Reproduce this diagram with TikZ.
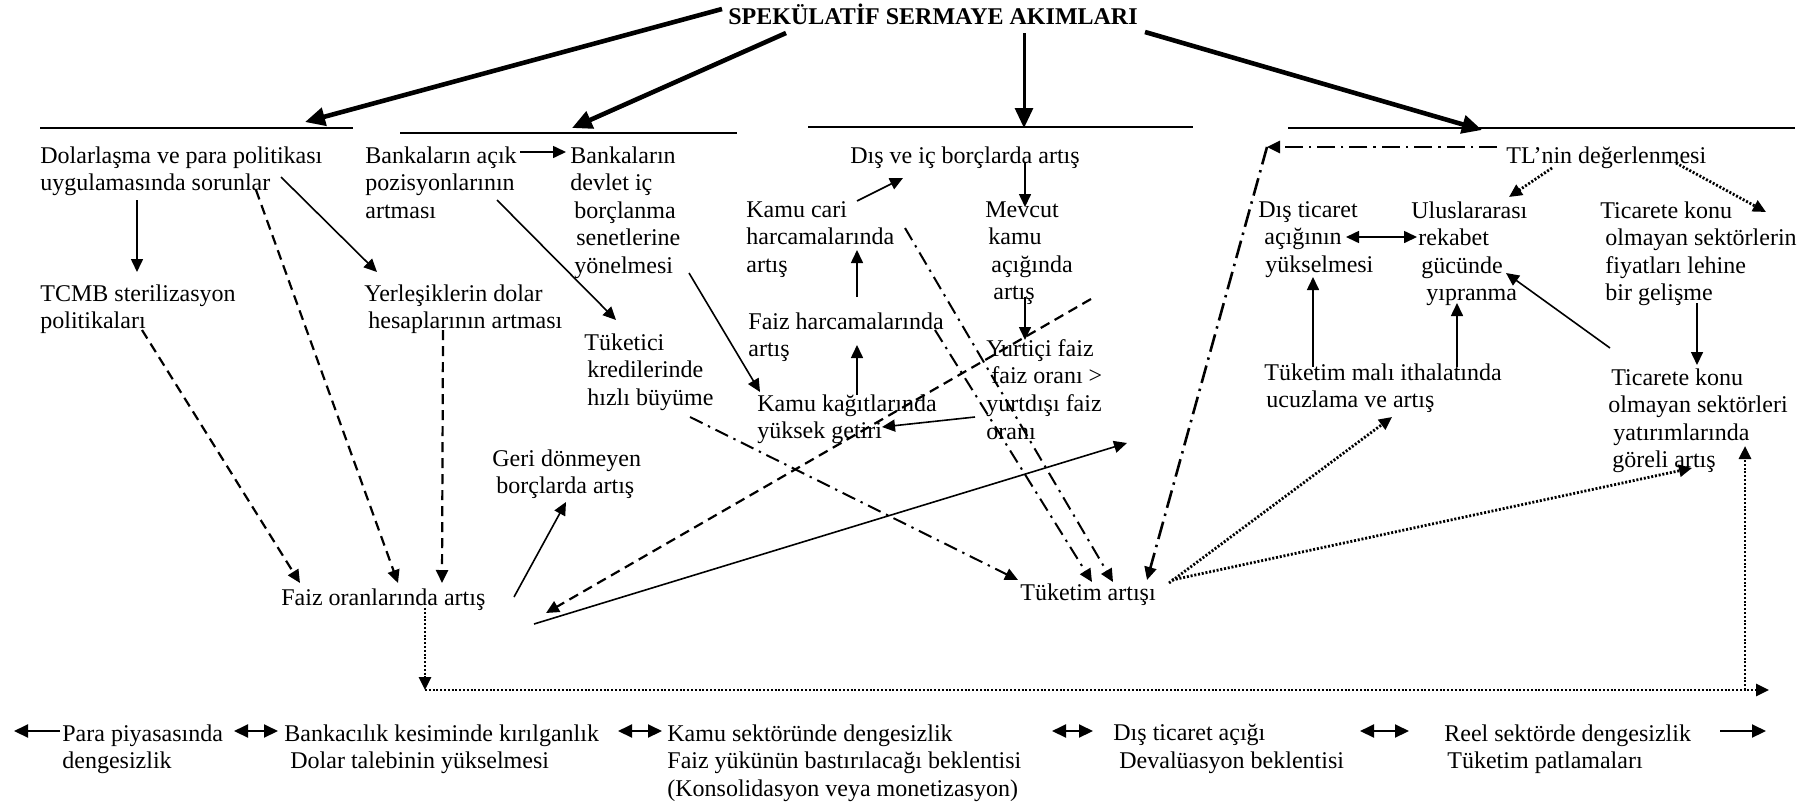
\documentclass[tikz,border=0pt]{standalone}
\usepackage{fontspec}
\setmainfont{Liberation Serif}
\usetikzlibrary{arrows.meta,calc}

\begin{document}
\begin{tikzpicture}[x=0.5pt, y=-0.5pt, >={Triangle[length=6.5pt,width=6pt]},
    every node/.style={font=\fontsize{12}{13.8}\selectfont},
    txt/.style={anchor=north west, inner sep=0pt, align=left},
    rule/.style={line width=1pt},
    link/.style={->, line width=0.8pt},
    heavy/.style={-{Triangle[length=10pt,width=9pt]}, line width=2.3pt},
    dashedlink/.style={->, line width=1.1pt, dash pattern=on 5pt off 3pt},
    dashdotlink/.style={->, line width=1pt, dash pattern=on 7pt off 3pt on 1.2pt off 3pt},
    dottedlink/.style={->, line width=1.4pt, dash pattern=on 1pt off 0.9pt},
    pairarrow/.style={{Triangle[length=7pt,width=6.5pt]}-{Triangle[length=7pt,width=6.5pt]}, line width=1pt}]
    \useasboundingbox (0,0) rectangle (1820,804);

    % Nodes
    \node (title) [anchor=base, inner sep=0pt, font=\fontsize{12}{13.8}\selectfont\bfseries] at (933,24) {SPEKÜLATİF SERMAYE AKIMLARI};
    \node (dolar) [txt] at (40,146) {Dolarlaşma ve para politikası\\uygulamasında sorunlar};
    \node (tcmb) [txt] at (40,284) {TCMB sterilizasyon\\politikaları};
    \node (yerlesik) [txt] at (364,284) {Yerleşiklerin dolar\\\hspace*{2pt}hesaplarının artması};
    \node (acik) [txt] at (365,146) {Bankaların açık\\pozisyonlarının\\artması};
    \node (devlet) [txt] at (570,146) {Bankaların\\devlet iç\\\hspace*{2pt}borçlanma\\\hspace*{3pt}senetlerine\\\hspace*{2pt}yönelmesi};
    \node (tuketici) [txt] at (584,333) {Tüketici\\\hspace*{1.5pt}kredilerinde\\\hspace*{1.5pt}hızlı büyüme};
    \node (kamucari) [txt] at (746,201) {Kamu cari\\harcamalarında\\artış};
    \node (faizharc) [txt] at (748,312) {Faiz harcamalarında\\artış};
    \node (kagit) [txt] at (757,394) {Kamu kağıtlarında\\yüksek getiri};
    \node (disic) [txt] at (850,146) {Dış ve iç borçlarda artış};
    \node (mevcut) [txt] at (985,201) {Mevcut\\\hspace*{1.5pt}kamu\\\hspace*{3pt}açığında\\\hspace*{4pt}artış};
    \node (yurtici) [txt] at (986,339) {Yurtiçi faiz\\\hspace*{2.5pt}faiz oranı >\\yurtdışı faiz\\oranı};
    \node (geri) [txt] at (492,449) {Geri dönmeyen\\\hspace*{2pt}borçlarda artış};
    \node (faizoran) [txt] at (281,588) {Faiz oranlarında artış};
    \node (tuketim) [txt] at (1020,583) {Tüketim artışı};
    \node (tl) [txt] at (1506,146) {TL’nin değerlenmesi};
    \node (disticaret) [txt] at (1258,201) {Dış ticaret\\\hspace*{3pt}açığının\\\hspace*{3.5pt}yükselmesi};
    \node (ulus) [txt] at (1411,201) {Uluslararası\\\hspace*{3.5pt}rekabet\\\hspace*{5pt}gücünde\\\hspace*{7.5pt}yıpranma};
    \node (ticfiyat) [txt] at (1600,201) {Ticarete konu\\\hspace*{2.5pt}olmayan sektörlerin\\\hspace*{2.5pt}fiyatları lehine\\\hspace*{2.5pt}bir gelişme};
    \node (ithalat) [txt] at (1264,363) {Tüketim malı ithalatında\\\hspace*{1pt}ucuzlama ve artış};
    \node (ticyat) [txt] at (1608,368) {\hspace*{1.5pt}Ticarete konu\\olmayan sektörleri\\\hspace*{2.5pt}yatırımlarında\\\hspace*{2pt}göreli artış};

    % Bottom row
    \node (para) [txt] at (62,724) {Para piyasasında\\dengesizlik};
    \node (banka) [txt] at (284,724) {Bankacılık kesiminde kırılganlık\\\hspace*{3pt}Dolar talebinin yükselmesi};
    \node (kamusek) [txt] at (667,724) {Kamu sektöründe dengesizlik\\Faiz yükünün bastırılacağı beklentisi\\(Konsolidasyon veya monetizasyon)};
    \node (dticaret) [txt] at (1113,724) {Dış ticaret açığı\\\hspace*{3pt}Devalüasyon beklentisi};
    \node (reel) [txt] at (1444,724) {Reel sektörde dengesizlik\\\hspace*{1.5pt}Tüketim patlamaları};

    % Free ends
    \coordinate (s1) at (305,122);
    \coordinate (s2) at (572,128);
    \coordinate (s3) at (1024,128);
    \coordinate (s4) at (1482,130);
    \coordinate (f1) at (1127,443);
    \coordinate (d1) at (1091,299);
    \coordinate (c1) at (1267,147);
    \coordinate (c2) at (425,690);
    \coordinate (c3) at (1769,690);
    \coordinate (c4) at (1745,690);
    \coordinate (b0) at (14,731);
    \coordinate (b1) at (1766,731);

    % Section rules
    \draw[rule] (40,128) -- (353,128);
    \draw[rule] (400,133) -- (737,133);
    \draw[rule] (808,127) -- (1193,127);
    \draw[rule] (1288,128) -- (1795,128);

    % Capital flow arrows
    \draw[heavy] ($(title.base)+(-211,-15)$) -- (s1);
    \draw[heavy] ($(title.base)+(-147,9)$) -- (s2);
    \draw[heavy, line width=1.5pt] ($(title.base)+(91,9)$) -- (s3);
    \draw[heavy] ($(title.base)+(212,8)$) -- (s4);

    % Solid arrows
    \draw[link] ($(dolar.north west)+(97,54)$) -- ($(tcmb.north west)+(97,-12)$);
    \draw[link] ($(dolar.north west)+(241,31)$) -- ($(yerlesik.north west)+(13,-12)$);
    \draw[link] ($(acik.north west)+(155,6)$) -- ($(devlet.north west)+(-4,6)$);
    \draw[link] ($(acik.north west)+(132,54)$) -- ($(tuketici.north west)+(32,-13)$);
    \draw[link] ($(devlet.north west)+(119,127)$) -- ($(kagit.north west)+(3,-2)$);
    \draw[link] ($(kagit.north west)+(100,1)$) -- ($(faizharc.north west)+(109,33)$);
    \draw[link] ($(faizharc.north west)+(109,-15)$) -- ($(kamucari.north west)+(111,49)$);
    \draw[link] ($(kamucari.north west)+(111,0)$) -- ($(disic.north west)+(53,32)$);
    \draw[link] ($(disic.north west)+(175,16)$) -- ($(mevcut.north west)+(40,6)$);
    \draw[link] ($(mevcut.north west)+(40,96)$) -- ($(yurtici.north west)+(39,1)$);
    \draw[link] ($(yurtici.north west)+(-11,78)$) -- ($(kagit.north west)+(125,33)$);
    \draw[link] ($(faizoran.north west)+(233,9)$) -- ($(geri.north west)+(74,53)$);
    \draw[link] ($(faizoran.north west)+(253,36)$) -- (f1);
    \draw[link] ($(ithalat.north west)+(49,4)$) -- ($(disticaret.north west)+(55,76)$);
    \draw[link] ($(ithalat.north west)+(193,4)$) -- ($(ulus.north west)+(46,102)$);
    \draw[link] ($(ticyat.north west)+(2,-20)$) -- ($(ulus.north west)+(95,72)$);
    \draw[link] ($(ticfiyat.north west)+(97,102)$) -- ($(ticyat.north west)+(89,-3)$);
    \draw[link, <->] ($(disticaret.north west)+(88,36)$) -- ($(ulus.north west)+(6,36)$);

    % Dashed arrows
    \draw[dashedlink] ($(tcmb.north west)+(102,46)$) -- ($(faizoran.north west)+(19,-5)$);
    \draw[dashedlink] ($(dolar.north west)+(216,44)$) -- ($(faizoran.north west)+(117,-5)$);
    \draw[dashedlink] ($(yerlesik.north west)+(79,46)$) -- ($(faizoran.north west)+(161,-5)$);
    \draw[dashedlink] (d1) -- ($(faizoran.north west)+(265,25)$);

    % Dash-dot arrows
    \draw[dashdotlink] ($(tuketici.north west)+(106,84)$) -- ($(tuketim.north west)+(-2,-3)$);
    \draw[dashdotlink] ($(kamucari.north west)+(159,27)$) -- ($(tuketim.north west)+(93,-1)$);
    \draw[dashdotlink] ($(faizharc.north west)+(187,18)$) -- ($(tuketim.north west)+(72,-1)$);
    \draw[dashdotlink, line width=1.3pt, dash pattern=on 9pt off 3pt on 1.2pt off 3pt] ($(tl.north west)+(-9,1)$) -- (c1);
    \draw[dashdotlink, line width=1.3pt, dash pattern=on 9pt off 3pt on 1.2pt off 3pt] (c1) -- ($(tuketim.north west)+(127,-3)$);

    % Dotted arrows
    \draw[dottedlink] ($(tl.north west)+(46,22)$) -- ($(ulus.north west)+(98,-4)$);
    \draw[dottedlink] ($(tl.north west)+(170,17)$) -- ($(ticfiyat.north west)+(166,11)$);
    \draw[dottedlink] ($(tuketim.north west)+(149,0)$) -- ($(ithalat.north west)+(128,54)$);
    \draw[dottedlink] ($(tuketim.north west)+(152,-3)$) -- ($(ticyat.north west)+(84,100)$);
    \draw[dottedlink] ($(faizoran.north west)+(144,20)$) -- (c2);
    \draw[dottedlink] (c2) -- (c3);
    \draw[dottedlink] (c4) -- ($(ticyat.north west)+(137,78)$);

    % Bottom arrows
    \draw[->, line width=1pt, >={Triangle[length=7pt,width=6.5pt]}] ($(para.north west)+(-2,7)$) -- (b0);
    \draw[pairarrow] ($(para.north west)+(172,7)$) -- ($(banka.north west)+(-6,7)$);
    \draw[pairarrow] ($(banka.north west)+(334,7)$) -- ($(kamusek.north west)+(-5,7)$);
    \draw[pairarrow] ($(kamusek.north west)+(385,7)$) -- ($(dticaret.north west)+(-20,7)$);
    \draw[pairarrow] ($(dticaret.north west)+(247,7)$) -- ($(reel.north west)+(-35,7)$);
    \draw[->, line width=1pt, >={Triangle[length=7pt,width=6.5pt]}] ($(reel.north west)+(276,7)$) -- (b1);

\end{tikzpicture}
\end{document}
